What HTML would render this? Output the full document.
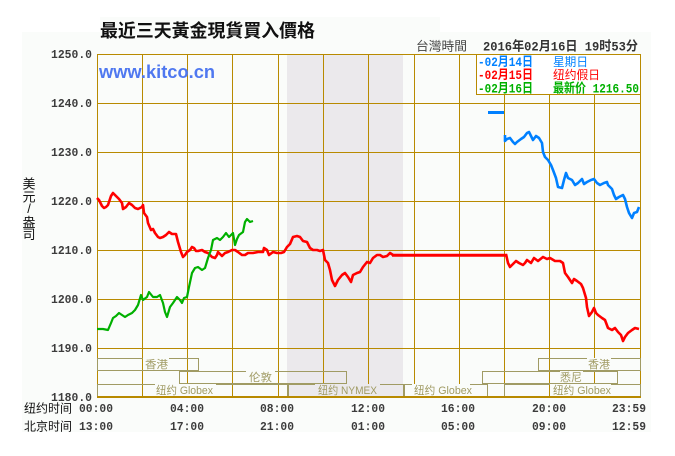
<!DOCTYPE html>
<html><head><meta charset="utf-8">
<style>
html,body{margin:0;padding:0;background:#fff;}
svg{display:block;}
.cjk{font-family:"Liberation Sans","Noto Sans CJK SC",sans-serif;}
.mono{font-family:"Liberation Mono","Noto Sans CJK SC",monospace;font-weight:bold;}
</style></head>
<body>
<svg width="675" height="456" viewBox="0 0 675 456" xmlns="http://www.w3.org/2000/svg">
  <!-- backgrounds -->
  <rect x="0" y="0" width="675" height="456" fill="#ffffff"/>
  <rect x="100" y="17" width="340" height="16" fill="#fafcfa"/>
  <rect x="22" y="32" width="629" height="400" fill="#fafcfa"/>
  <!-- shaded NYMEX period -->
  <rect x="287" y="54" width="116" height="343" fill="#ebe9ec"/>

  <!-- grid -->
  <g stroke="#b88a00" stroke-width="1" shape-rendering="crispEdges" fill="none">
    <line x1="97" y1="54.5" x2="640" y2="54.5"/>
    <line x1="97" y1="103.5" x2="640" y2="103.5"/>
    <line x1="97" y1="152.5" x2="640" y2="152.5"/>
    <line x1="97" y1="201.5" x2="640" y2="201.5"/>
    <line x1="97" y1="250.5" x2="640" y2="250.5"/>
    <line x1="97" y1="299.5" x2="640" y2="299.5"/>
    <line x1="97" y1="348.5" x2="640" y2="348.5"/>
    <line x1="97.5" y1="54" x2="97.5" y2="397"/>
    <line x1="142.5" y1="54" x2="142.5" y2="397"/>
    <line x1="187.5" y1="54" x2="187.5" y2="397"/>
    <line x1="232.5" y1="54" x2="232.5" y2="397"/>
    <line x1="278.5" y1="54" x2="278.5" y2="397"/>
    <line x1="323.5" y1="54" x2="323.5" y2="397"/>
    <line x1="368.5" y1="54" x2="368.5" y2="397"/>
    <line x1="414.5" y1="54" x2="414.5" y2="397"/>
    <line x1="459.5" y1="54" x2="459.5" y2="397"/>
    <line x1="504.5" y1="54" x2="504.5" y2="397"/>
    <line x1="549.5" y1="54" x2="549.5" y2="397"/>
    <line x1="594.5" y1="54" x2="594.5" y2="397"/>
    <line x1="640.5" y1="54" x2="640.5" y2="397"/>
  </g>

  <!-- session boxes -->
  <g stroke="#a09b64" stroke-width="1" fill="none" shape-rendering="crispEdges">
    <rect x="97.5" y="358.5" width="101" height="12"/>
    <rect x="179.5" y="371.5" width="167" height="12"/>
    <rect x="97.5" y="384.5" width="190" height="12"/>
    <rect x="288.5" y="384.5" width="115" height="12"/>
    <rect x="404.5" y="384.5" width="83" height="12"/>
    <rect x="504.5" y="384.5" width="136" height="12"/>
    <rect x="482.5" y="371.5" width="135" height="12"/>
    <rect x="538.5" y="358.5" width="102" height="12"/>
  </g>
  <!-- label backgrounds -->
  <g fill="#fafcfa">
    <rect x="143" y="358" width="26" height="12"/>
    <rect x="246" y="371" width="29" height="12"/>
    <rect x="155" y="384" width="61" height="12"/>
    <rect x="412" y="384" width="58" height="12"/>
    <rect x="560" y="371" width="23" height="12"/>
    <rect x="587" y="358" width="24" height="12"/>
    <rect x="550" y="384" width="61" height="12"/>
  </g>
  <rect x="315" y="384" width="65" height="12" fill="#ebe9ec"/>
  <g class="cjk" font-size="11" fill="#a09b64">
    <text x="145" y="368" textLength="23" lengthAdjust="spacingAndGlyphs">香港</text>
    <text x="249" y="381" textLength="23" lengthAdjust="spacingAndGlyphs">伦敦</text>
    <text x="156" y="394" textLength="57" lengthAdjust="spacingAndGlyphs">纽约 Globex</text>
    <text x="318" y="394" textLength="59" lengthAdjust="spacingAndGlyphs">纽约 NYMEX</text>
    <text x="414" y="394" textLength="58" lengthAdjust="spacingAndGlyphs">纽约 Globex</text>
    <text x="560" y="381" textLength="22" lengthAdjust="spacingAndGlyphs">悉尼</text>
    <text x="588" y="368" textLength="22" lengthAdjust="spacingAndGlyphs">香港</text>
    <text x="553" y="394" textLength="58" lengthAdjust="spacingAndGlyphs">纽约 Globex</text>
  </g>

  <!-- bottom axis -->
  <line x1="97" y1="397" x2="641" y2="397" stroke="#b88a00" stroke-width="2" shape-rendering="crispEdges"/>

  <!-- series -->
  <g fill="none" stroke-linejoin="round" stroke-linecap="butt">
    <polyline stroke="#ff0000" stroke-width="2.6" points="97,198 99,200 102,206 104,208 106,207 108,205 111,196 113,193 116,196 119,199 122,203 123,209 126,207 129,203 132,205 135,208 138,209 142,207 143,205 144,213 147,217 148,223 151,230 153,229 155,233 158,237 160,238 163,237 166,235 169,232 172,234 176,234 178,242 181,252 183,257 185,255 187,252 190,250 192,247 194,248 196,251 198,251 202,250 205,252 208,253 212,257 215,258 217,255 218,252 222,256 225,253 228,252 232,250 235,250 238,252 242,255 245,255 248,253 253,253 258,252 263,252 264,248 267,250 269,255 273,252 277,253 281,253 284,252 287,247 290,244 293,237 297,236 300,237 303,241 307,242 310,248 313,250 317,250 320,251 323,250 325,260 328,263 330,270 332,280 335,286 338,280 342,275 345,273 348,277 351,282 353,275 357,273 360,272 363,267 367,262 370,263 373,258 377,255 380,255 383,257 387,256 390,253 393,255"/>
    <line x1="392" y1="255.2" x2="507" y2="255.2" stroke="#ff0000" stroke-width="3"/>
    <polyline stroke="#ff0000" stroke-width="2.6" points="506,254 508,263 510,267 513,264 516,261 519,263 523,265 525,263 527,260 531,263 534,258 538,261 543,257 547,259 550,258 555,261 560,261 563,263 565,273 568,277 572,283 574,279 577,281 581,284 583,288 586,298 587,307 589,316 592,312 594,308 596,313 598,315 602,318 605,320 608,328 612,330 615,328 618,332 621,335 623,341 625,337 628,333 632,330 635,328 639,329"/>
    <polyline stroke="#00b000" stroke-width="2.2" points="97,329 103,329 108,330 111,323 113,318 116,316 119,313 122,315 125,317 128,315 132,313 135,310 138,305 141,295 143,300 147,297 149,292 153,297 157,297 160,295 163,303 165,312 167,317 170,307 173,303 177,297 180,300 182,303 184,298 187,297 189,287 192,273 195,268 198,267 202,270 205,268 208,258 211,250 213,240 217,238 220,240 223,237 226,233 229,237 233,233 235,245 237,239 239,235 243,232 245,222 247,219 250,222 253,221"/>
    <line x1="488" y1="112.5" x2="504" y2="112.5" stroke="#0080ff" stroke-width="3"/>
    <polyline stroke="#0080ff" stroke-width="2.6" points="505,135 505,141 507,139 510,138 513,142 515,144 517,142 521,139 524,137 527,133 529,132 532,138 533,140 536,136 539,138 542,143 543,152 545,157 548,160 551,165 553,170 556,178 558,187 562,188 564,180 566,173 568,178 572,180 575,185 578,183 582,179 584,184 587,182 591,180 594,179 597,183 600,185 604,183 607,182 608,185 612,189 614,195 616,199 619,197 623,195 625,199 627,207 629,213 632,218 634,213 637,212 639,207"/>
  </g>

  <!-- legend -->
  <rect x="476.5" y="54.5" width="164" height="40" fill="#ffffff" stroke="#b88a00" stroke-width="1" shape-rendering="crispEdges"/>
  <g class="mono" font-size="13">
    <text x="478" y="66" fill="#0080ff" textLength="55" lengthAdjust="spacingAndGlyphs">-02月14日</text>
    <text x="478" y="79" fill="#ff0000" textLength="55" lengthAdjust="spacingAndGlyphs">-02月15日</text>
    <text x="478" y="92.5" fill="#00b000" textLength="55" lengthAdjust="spacingAndGlyphs">-02月16日</text>
  </g>
  <g class="cjk" font-size="12">
    <text x="553" y="66" fill="#0080ff" textLength="35" lengthAdjust="spacingAndGlyphs">星期日</text>
    <text x="553" y="79" fill="#ff0000" textLength="47" lengthAdjust="spacingAndGlyphs">纽约假日</text>
  </g>
  <text x="553" y="92.5" class="mono" font-size="13" fill="#00b000" textLength="86" lengthAdjust="spacingAndGlyphs">最新价 1216.50</text>

  <!-- header -->
  <text x="100" y="37" class="cjk" font-family="Liberation Sans,'Noto Sans CJK TC',sans-serif" font-size="18" font-weight="bold" fill="#111" textLength="215" lengthAdjust="spacingAndGlyphs">最近三天黃金現貨買入價格</text>
  <text x="416" y="50.5" class="cjk" font-size="12.5" fill="#444" textLength="51" lengthAdjust="spacingAndGlyphs">台灣時間</text>
  <text x="483" y="50.5" class="mono" font-size="13" fill="#333" textLength="155" lengthAdjust="spacingAndGlyphs">2016年02月16日 19时53分</text>
  <text x="99" y="78" font-family="Liberation Sans,sans-serif" font-weight="bold" font-size="18" fill="#4f78f0" textLength="116" lengthAdjust="spacingAndGlyphs">www.kitco.cn</text>

  <!-- y labels -->
  <g class="mono" font-size="12" fill="#3c3c3c" text-anchor="end">
    <text x="92" y="58" textLength="41" lengthAdjust="spacingAndGlyphs">1250.0</text>
    <text x="92" y="107" textLength="41" lengthAdjust="spacingAndGlyphs">1240.0</text>
    <text x="92" y="156" textLength="41" lengthAdjust="spacingAndGlyphs">1230.0</text>
    <text x="92" y="205" textLength="41" lengthAdjust="spacingAndGlyphs">1220.0</text>
    <text x="92" y="254" textLength="41" lengthAdjust="spacingAndGlyphs">1210.0</text>
    <text x="92" y="303" textLength="41" lengthAdjust="spacingAndGlyphs">1200.0</text>
    <text x="92" y="352" textLength="41" lengthAdjust="spacingAndGlyphs">1190.0</text>
    <text x="92" y="401" textLength="41" lengthAdjust="spacingAndGlyphs">1180.0</text>
  </g>

  <!-- y axis title -->
  <g class="cjk" font-size="13" fill="#111" text-anchor="middle">
    <text x="29" y="188.5">美</text>
    <text x="29" y="201.5">元</text>
    <text x="29" y="213">/</text>
    <text x="29" y="227">盎</text>
    <text x="29" y="239">司</text>
  </g>

  <!-- x labels -->
  <g class="cjk" font-size="12" fill="#111">
    <text x="24" y="412.5" textLength="48" lengthAdjust="spacingAndGlyphs">纽约时间</text>
    <text x="24" y="430.5" textLength="48" lengthAdjust="spacingAndGlyphs">北京时间</text>
  </g>
  <g class="mono" font-size="12" fill="#3c3c3c">
    <text x="79" y="412" textLength="34" lengthAdjust="spacingAndGlyphs">00:00</text>
    <text x="170" y="412" textLength="34" lengthAdjust="spacingAndGlyphs">04:00</text>
    <text x="260" y="412" textLength="34" lengthAdjust="spacingAndGlyphs">08:00</text>
    <text x="351" y="412" textLength="34" lengthAdjust="spacingAndGlyphs">12:00</text>
    <text x="441" y="412" textLength="34" lengthAdjust="spacingAndGlyphs">16:00</text>
    <text x="532" y="412" textLength="34" lengthAdjust="spacingAndGlyphs">20:00</text>
    <text x="612" y="412" textLength="34" lengthAdjust="spacingAndGlyphs">23:59</text>
    <text x="79" y="430" textLength="34" lengthAdjust="spacingAndGlyphs">13:00</text>
    <text x="170" y="430" textLength="34" lengthAdjust="spacingAndGlyphs">17:00</text>
    <text x="260" y="430" textLength="34" lengthAdjust="spacingAndGlyphs">21:00</text>
    <text x="351" y="430" textLength="34" lengthAdjust="spacingAndGlyphs">01:00</text>
    <text x="441" y="430" textLength="34" lengthAdjust="spacingAndGlyphs">05:00</text>
    <text x="532" y="430" textLength="34" lengthAdjust="spacingAndGlyphs">09:00</text>
    <text x="612" y="430" textLength="34" lengthAdjust="spacingAndGlyphs">12:59</text>
  </g>
</svg>
</body></html>
